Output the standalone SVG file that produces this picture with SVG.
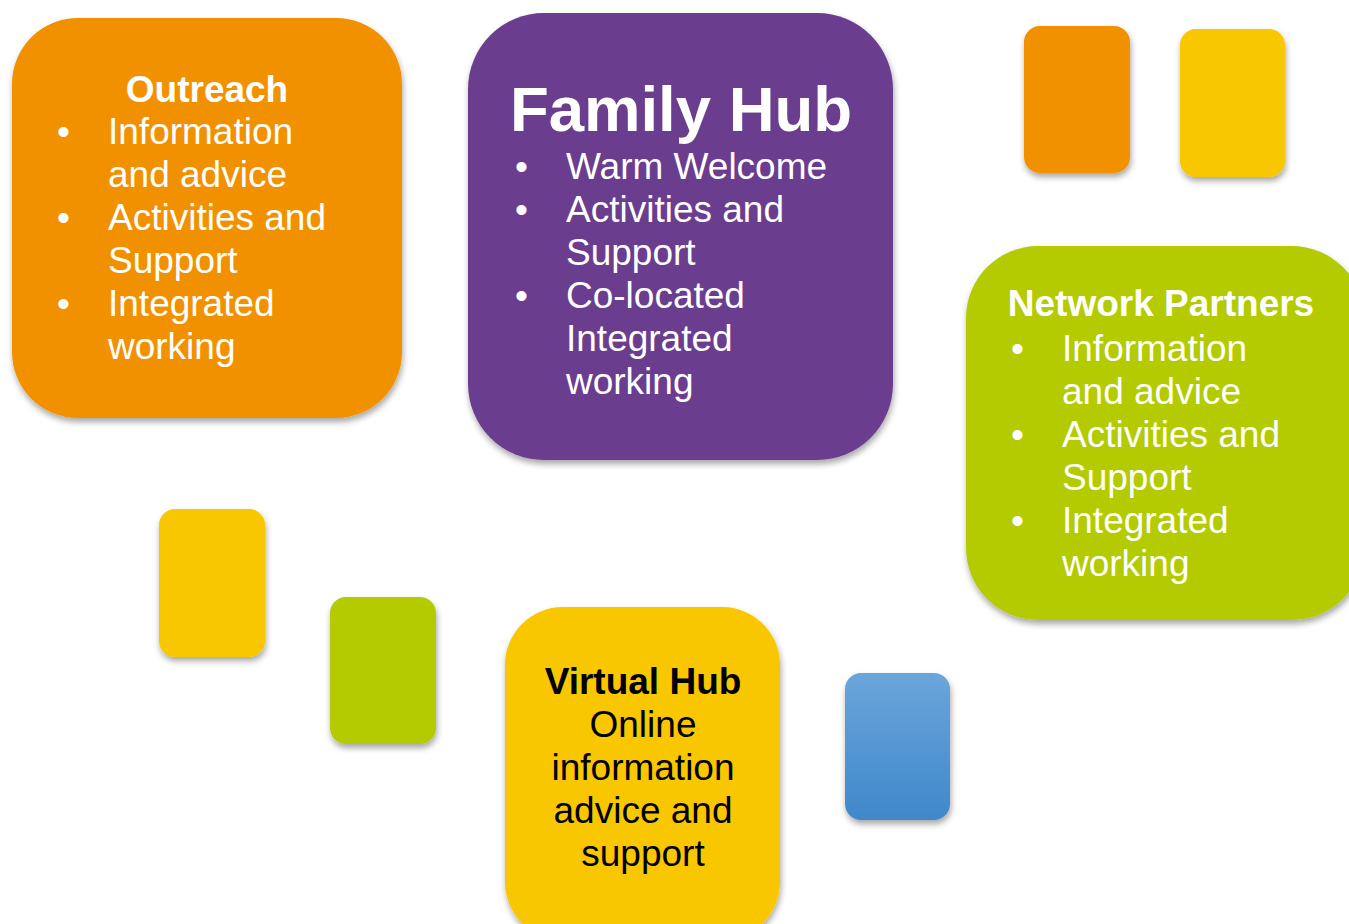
<svg xmlns="http://www.w3.org/2000/svg" width="1349" height="924" viewBox="0 0 1349 924">
<defs>
<filter id="sh" x="-20%" y="-20%" width="140%" height="140%">
<feDropShadow dx="1" dy="4" stdDeviation="3" flood-color="#000" flood-opacity="0.35"/>
</filter>
<linearGradient id="blue" x1="0" y1="0" x2="0" y2="1">
<stop offset="0" stop-color="#6BA5DB"/>
<stop offset="1" stop-color="#3F88CB"/>
</linearGradient>
</defs>
<style>
.t{font-family:"Liberation Sans",Arial,sans-serif;font-size:37px;fill:#fff}
.b{font-weight:bold}
.k{fill:#000}
.box{filter:url(#sh)}
</style>
<rect width="1349" height="924" fill="#fff"/>
<g id="sq-orange"><rect class="box" x="1024" y="26" width="106" height="147" rx="16" fill="#F29100"/></g>
<g id="sq-yellow1"><rect class="box" x="1180" y="29" width="105" height="148" rx="16" fill="#F9C700"/></g>
<g id="sq-yellow2"><rect class="box" x="159" y="509" width="106" height="148" rx="16" fill="#F9C700"/></g>
<g id="sq-green"><rect class="box" x="330" y="597" width="106" height="147" rx="16" fill="#B3CB04"/></g>
<g id="sq-blue"><rect class="box" x="845" y="673" width="105" height="147" rx="16" fill="url(#blue)"/></g>
<g id="outreach">
<rect class="box" x="12" y="18" width="390" height="400" rx="66" fill="#F29100"/>
<text class="t b" x="207" y="102" text-anchor="middle">Outreach</text>
<text class="t" x="57" y="144">•</text><text class="t" x="108" y="144">Information</text>
<text class="t" x="108" y="187">and advice</text>
<text class="t" x="57" y="230">•</text><text class="t" x="108" y="230">Activities and</text>
<text class="t" x="108" y="273">Support</text>
<text class="t" x="57" y="316">•</text><text class="t" x="108" y="316">Integrated</text>
<text class="t" x="108" y="359">working</text>
</g>
<g id="family-hub">
<rect class="box" x="468" y="13" width="425" height="447" rx="76" fill="#6A3D8F"/>
<text class="t b" x="681" y="131" text-anchor="middle" style="font-size:63.5px">Family Hub</text>
<text class="t" x="515" y="179">•</text><text class="t" x="566" y="179">Warm Welcome</text>
<text class="t" x="515" y="222">•</text><text class="t" x="566" y="222">Activities and</text>
<text class="t" x="566" y="265">Support</text>
<text class="t" x="515" y="308">•</text><text class="t" x="566" y="308">Co-located</text>
<text class="t" x="566" y="351">Integrated</text>
<text class="t" x="566" y="394">working</text>
</g>
<g id="network-partners">
<rect class="box" x="966" y="246" width="398" height="374" rx="72" fill="#B3CB04"/>
<text class="t b" x="1161" y="316" text-anchor="middle">Network Partners</text>
<text class="t" x="1011" y="361">•</text><text class="t" x="1062" y="361">Information</text>
<text class="t" x="1062" y="404">and advice</text>
<text class="t" x="1011" y="447">•</text><text class="t" x="1062" y="447">Activities and</text>
<text class="t" x="1062" y="490">Support</text>
<text class="t" x="1011" y="533">•</text><text class="t" x="1062" y="533">Integrated</text>
<text class="t" x="1062" y="576">working</text>
</g>
<g id="virtual-hub">
<rect class="box" x="505" y="607" width="275" height="333" rx="58" fill="#F9C700"/>
<text class="t b k" x="643" y="694" text-anchor="middle">Virtual Hub</text>
<text class="t k" x="643" y="737" text-anchor="middle">Online</text>
<text class="t k" x="643" y="780" text-anchor="middle">information</text>
<text class="t k" x="643" y="823" text-anchor="middle">advice and</text>
<text class="t k" x="643" y="866" text-anchor="middle">support</text>
</g>
<g id="connectors"/>
</svg>
